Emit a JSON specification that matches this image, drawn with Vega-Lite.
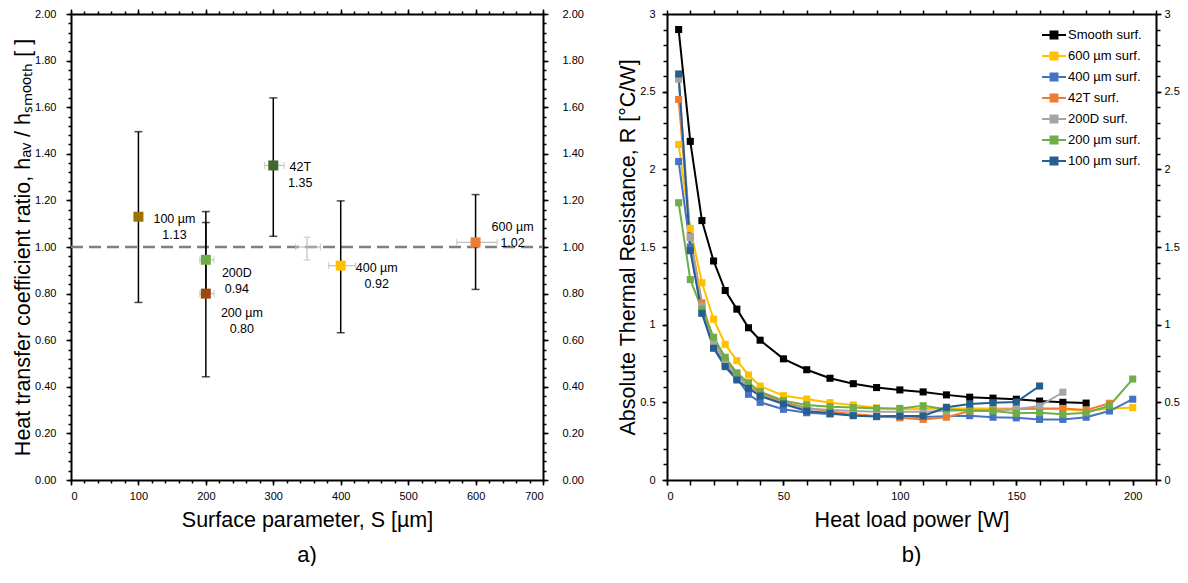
{
  "$schema": "https://vega.github.io/schema/vega-lite/v6.json",
  "background": "white",
  "padding": {"left": 12, "top": 8, "right": 0, "bottom": 0},
  "autosize": {"type": "pad"},
  "datasets": {
    "pts": [
      {"name": "100 µm", "s": 100, "h": 1.13, "lo": 0.762, "hi": 1.495, "slo": 95, "shi": 105, "label": "100 µm\n1.13"},
      {"name": "200D", "s": 200, "h": 0.945, "lo": 0.787, "hi": 1.105, "slo": 191, "shi": 212, "label": "200D\n0.94"},
      {"name": "200 µm", "s": 200, "h": 0.80, "lo": 0.443, "hi": 1.152, "slo": 191, "shi": 212, "label": "200 µm\n0.80"},
      {"name": "42T", "s": 300, "h": 1.35, "lo": 1.046, "hi": 1.64, "slo": 287, "shi": 316, "label": "42T\n1.35"},
      {"name": "400 µm", "s": 400, "h": 0.92, "lo": 0.632, "hi": 1.198, "slo": 382, "shi": 422, "label": "400 µm\n0.92"},
      {"name": "600 µm", "s": 600, "h": 1.02, "lo": 0.818, "hi": 1.225, "slo": 572, "shi": 632, "label": "600 µm\n1.02"}
    ],
    "smoothref": [{"s": 350, "h": 1.0, "lo": 0.944, "hi": 1.042, "slo": 333, "shi": 370}],
    "ref": [{"s": 0, "h": 1}, {"s": 700, "h": 1}],
    "res": [
      {"series": "Smooth surf.", "W": 5, "R": 2.90}, {"series": "Smooth surf.", "W": 10, "R": 2.18}, {"series": "Smooth surf.", "W": 15, "R": 1.67}, {"series": "Smooth surf.", "W": 20, "R": 1.41}, {"series": "Smooth surf.", "W": 25, "R": 1.22}, {"series": "Smooth surf.", "W": 30, "R": 1.10}, {"series": "Smooth surf.", "W": 35, "R": 0.98}, {"series": "Smooth surf.", "W": 40, "R": 0.90}, {"series": "Smooth surf.", "W": 50, "R": 0.78}, {"series": "Smooth surf.", "W": 60, "R": 0.71}, {"series": "Smooth surf.", "W": 70, "R": 0.655}, {"series": "Smooth surf.", "W": 80, "R": 0.62}, {"series": "Smooth surf.", "W": 90, "R": 0.595}, {"series": "Smooth surf.", "W": 100, "R": 0.58}, {"series": "Smooth surf.", "W": 110, "R": 0.567}, {"series": "Smooth surf.", "W": 120, "R": 0.548}, {"series": "Smooth surf.", "W": 130, "R": 0.533}, {"series": "Smooth surf.", "W": 140, "R": 0.527}, {"series": "Smooth surf.", "W": 150, "R": 0.52}, {"series": "Smooth surf.", "W": 160, "R": 0.508}, {"series": "Smooth surf.", "W": 170, "R": 0.50}, {"series": "Smooth surf.", "W": 180, "R": 0.495},
      {"series": "600 µm surf.", "W": 5, "R": 2.16}, {"series": "600 µm surf.", "W": 10, "R": 1.62}, {"series": "600 µm surf.", "W": 15, "R": 1.27}, {"series": "600 µm surf.", "W": 20, "R": 1.035}, {"series": "600 µm surf.", "W": 25, "R": 0.873}, {"series": "600 µm surf.", "W": 30, "R": 0.768}, {"series": "600 µm surf.", "W": 35, "R": 0.676}, {"series": "600 µm surf.", "W": 40, "R": 0.605}, {"series": "600 µm surf.", "W": 50, "R": 0.543}, {"series": "600 µm surf.", "W": 60, "R": 0.521}, {"series": "600 µm surf.", "W": 70, "R": 0.498}, {"series": "600 µm surf.", "W": 80, "R": 0.483}, {"series": "600 µm surf.", "W": 90, "R": 0.465}, {"series": "600 µm surf.", "W": 100, "R": 0.455}, {"series": "600 µm surf.", "W": 110, "R": 0.457}, {"series": "600 µm surf.", "W": 120, "R": 0.46}, {"series": "600 µm surf.", "W": 130, "R": 0.46}, {"series": "600 µm surf.", "W": 140, "R": 0.46}, {"series": "600 µm surf.", "W": 150, "R": 0.46}, {"series": "600 µm surf.", "W": 160, "R": 0.458}, {"series": "600 µm surf.", "W": 170, "R": 0.455}, {"series": "600 µm surf.", "W": 180, "R": 0.446}, {"series": "600 µm surf.", "W": 190, "R": 0.458}, {"series": "600 µm surf.", "W": 200, "R": 0.466},
      {"series": "400 µm surf.", "W": 5, "R": 2.05}, {"series": "400 µm surf.", "W": 10, "R": 1.50}, {"series": "400 µm surf.", "W": 15, "R": 1.08}, {"series": "400 µm surf.", "W": 20, "R": 0.86}, {"series": "400 µm surf.", "W": 25, "R": 0.74}, {"series": "400 µm surf.", "W": 30, "R": 0.655}, {"series": "400 µm surf.", "W": 35, "R": 0.552}, {"series": "400 µm surf.", "W": 40, "R": 0.50}, {"series": "400 µm surf.", "W": 50, "R": 0.455}, {"series": "400 µm surf.", "W": 60, "R": 0.433}, {"series": "400 µm surf.", "W": 70, "R": 0.425}, {"series": "400 µm surf.", "W": 80, "R": 0.42}, {"series": "400 µm surf.", "W": 90, "R": 0.41}, {"series": "400 µm surf.", "W": 100, "R": 0.41}, {"series": "400 µm surf.", "W": 110, "R": 0.405}, {"series": "400 µm surf.", "W": 120, "R": 0.41}, {"series": "400 µm surf.", "W": 130, "R": 0.414}, {"series": "400 µm surf.", "W": 140, "R": 0.404}, {"series": "400 µm surf.", "W": 150, "R": 0.40}, {"series": "400 µm surf.", "W": 160, "R": 0.39}, {"series": "400 µm surf.", "W": 170, "R": 0.39}, {"series": "400 µm surf.", "W": 180, "R": 0.404}, {"series": "400 µm surf.", "W": 190, "R": 0.444}, {"series": "400 µm surf.", "W": 200, "R": 0.52},
      {"series": "42T surf.", "W": 5, "R": 2.45}, {"series": "42T surf.", "W": 10, "R": 1.57}, {"series": "42T surf.", "W": 15, "R": 1.14}, {"series": "42T surf.", "W": 20, "R": 0.90}, {"series": "42T surf.", "W": 25, "R": 0.77}, {"series": "42T surf.", "W": 30, "R": 0.68}, {"series": "42T surf.", "W": 35, "R": 0.605}, {"series": "42T surf.", "W": 40, "R": 0.56}, {"series": "42T surf.", "W": 50, "R": 0.50}, {"series": "42T surf.", "W": 60, "R": 0.465}, {"series": "42T surf.", "W": 70, "R": 0.44}, {"series": "42T surf.", "W": 80, "R": 0.425}, {"series": "42T surf.", "W": 90, "R": 0.41}, {"series": "42T surf.", "W": 100, "R": 0.40}, {"series": "42T surf.", "W": 110, "R": 0.39}, {"series": "42T surf.", "W": 120, "R": 0.404}, {"series": "42T surf.", "W": 130, "R": 0.444}, {"series": "42T surf.", "W": 140, "R": 0.45}, {"series": "42T surf.", "W": 150, "R": 0.455}, {"series": "42T surf.", "W": 160, "R": 0.46}, {"series": "42T surf.", "W": 170, "R": 0.461}, {"series": "42T surf.", "W": 180, "R": 0.45}, {"series": "42T surf.", "W": 190, "R": 0.494},
      {"series": "200D surf.", "W": 5, "R": 2.58}, {"series": "200D surf.", "W": 10, "R": 1.56}, {"series": "200D surf.", "W": 15, "R": 1.12}, {"series": "200D surf.", "W": 20, "R": 0.89}, {"series": "200D surf.", "W": 25, "R": 0.76}, {"series": "200D surf.", "W": 30, "R": 0.67}, {"series": "200D surf.", "W": 35, "R": 0.60}, {"series": "200D surf.", "W": 40, "R": 0.55}, {"series": "200D surf.", "W": 50, "R": 0.49}, {"series": "200D surf.", "W": 60, "R": 0.46}, {"series": "200D surf.", "W": 70, "R": 0.45}, {"series": "200D surf.", "W": 80, "R": 0.445}, {"series": "200D surf.", "W": 90, "R": 0.44}, {"series": "200D surf.", "W": 100, "R": 0.44}, {"series": "200D surf.", "W": 110, "R": 0.44}, {"series": "200D surf.", "W": 120, "R": 0.445}, {"series": "200D surf.", "W": 130, "R": 0.45}, {"series": "200D surf.", "W": 140, "R": 0.45}, {"series": "200D surf.", "W": 150, "R": 0.455}, {"series": "200D surf.", "W": 160, "R": 0.476}, {"series": "200D surf.", "W": 170, "R": 0.565},
      {"series": "200 µm surf.", "W": 5, "R": 1.785}, {"series": "200 µm surf.", "W": 10, "R": 1.29}, {"series": "200 µm surf.", "W": 15, "R": 1.10}, {"series": "200 µm surf.", "W": 20, "R": 0.919}, {"series": "200 µm surf.", "W": 25, "R": 0.79}, {"series": "200 µm surf.", "W": 30, "R": 0.69}, {"series": "200 µm surf.", "W": 35, "R": 0.626}, {"series": "200 µm surf.", "W": 40, "R": 0.569}, {"series": "200 µm surf.", "W": 50, "R": 0.511}, {"series": "200 µm surf.", "W": 60, "R": 0.483}, {"series": "200 µm surf.", "W": 70, "R": 0.472}, {"series": "200 µm surf.", "W": 80, "R": 0.466}, {"series": "200 µm surf.", "W": 90, "R": 0.461}, {"series": "200 µm surf.", "W": 100, "R": 0.461}, {"series": "200 µm surf.", "W": 110, "R": 0.478}, {"series": "200 µm surf.", "W": 120, "R": 0.455}, {"series": "200 µm surf.", "W": 130, "R": 0.446}, {"series": "200 µm surf.", "W": 140, "R": 0.444}, {"series": "200 µm surf.", "W": 150, "R": 0.429}, {"series": "200 µm surf.", "W": 160, "R": 0.433}, {"series": "200 µm surf.", "W": 170, "R": 0.423}, {"series": "200 µm surf.", "W": 180, "R": 0.433}, {"series": "200 µm surf.", "W": 190, "R": 0.478}, {"series": "200 µm surf.", "W": 200, "R": 0.65},
      {"series": "100 µm surf.", "W": 5, "R": 2.614}, {"series": "100 µm surf.", "W": 10, "R": 1.476}, {"series": "100 µm surf.", "W": 15, "R": 1.073}, {"series": "100 µm surf.", "W": 20, "R": 0.848}, {"series": "100 µm surf.", "W": 25, "R": 0.73}, {"series": "100 µm surf.", "W": 30, "R": 0.644}, {"series": "100 µm surf.", "W": 35, "R": 0.59}, {"series": "100 µm surf.", "W": 40, "R": 0.541}, {"series": "100 µm surf.", "W": 50, "R": 0.489}, {"series": "100 µm surf.", "W": 60, "R": 0.444}, {"series": "100 µm surf.", "W": 70, "R": 0.429}, {"series": "100 µm surf.", "W": 80, "R": 0.414}, {"series": "100 µm surf.", "W": 90, "R": 0.408}, {"series": "100 µm surf.", "W": 100, "R": 0.412}, {"series": "100 µm surf.", "W": 110, "R": 0.412}, {"series": "100 µm surf.", "W": 120, "R": 0.468}, {"series": "100 µm surf.", "W": 130, "R": 0.489}, {"series": "100 µm surf.", "W": 140, "R": 0.498}, {"series": "100 µm surf.", "W": 150, "R": 0.502}, {"series": "100 µm surf.", "W": 160, "R": 0.605}
    ]
  },
  "bounds": "flush",
  "spacing": 124,
  "resolve": {"scale": {"color": "independent", "fill": "independent"}, "legend": {"color": "independent", "fill": "independent"}},
  "hconcat": [
    {
      "name": "lp",
      "width": 472,
      "height": 466,
      "title": {"text": "a)", "orient": "bottom", "fontSize": 22, "fontWeight": "normal", "font": "Liberation Sans", "offset": 14, "color": "#000"},
      "resolve": {"axis": {"x": "independent", "y": "independent"}},
      "layer": [
        {
          "data": {"name": "ref"},
          "mark": {"type": "line", "color": "#808080", "strokeWidth": 2.5, "strokeDash": [12, 6]},
          "encoding": {
            "x": {"field": "s", "type": "quantitative", "scale": {"domain": [0, 700], "nice": false},
              "axis": {"orient": "bottom", "values": [0, 100, 200, 300, 400, 500, 600, 700], "title": "Surface parameter, S [µm]", "tickSize": 5, "labelPadding": 5, "titlePadding": 8}},
            "y": {"field": "h", "type": "quantitative", "scale": {"domain": [0, 2], "nice": false},
              "axis": {"orient": "left", "values": [0, 0.2, 0.4, 0.6, 0.8, 1, 1.2, 1.4, 1.6, 1.8, 2], "format": ".2f", "title": "Heat transfer coefficient ratio, hₐᵥ / hₛₘₒₒₜₕ [ ]", "tickSize": 5, "labelPadding": 10, "titlePadding": 0}}
          }
        },
        {
          "data": {"name": "smoothref"},
          "mark": {"type": "rule", "color": "#BFBFBF", "strokeWidth": 1.2},
          "encoding": {
            "x": {"field": "s", "type": "quantitative", "scale": {"domain": [0, 700], "nice": false},
              "axis": {"orient": "top", "values": [0, 100, 200, 300, 400, 500, 600, 700], "labels": false, "title": null, "tickSize": 5}},
            "y": {"field": "lo", "type": "quantitative", "scale": {"domain": [0, 2], "nice": false},
              "axis": {"orient": "right", "values": [0, 0.2, 0.4, 0.6, 0.8, 1, 1.2, 1.4, 1.6, 1.8, 2], "format": ".2f", "title": null, "tickSize": 5, "labelPadding": 14}},
            "y2": {"field": "hi"}
          }
        },
        {
          "data": {"name": "smoothref"},
          "mark": {"type": "rule", "color": "#BFBFBF", "strokeWidth": 1.2},
          "encoding": {
            "x": {"field": "slo", "type": "quantitative", "scale": {"domain": [0, 700], "nice": false},
              "axis": {"orient": "top", "values": [0, 20, 40, 60, 80, 100, 120, 140, 160, 180, 200, 220, 240, 260, 280, 300, 320, 340, 360, 380, 400, 420, 440, 460, 480, 500, 520, 540, 560, 580, 600, 620, 640, 660, 680, 700], "labels": false, "domain": false, "title": null, "tickSize": 3}},
            "x2": {"field": "shi"},
            "y": {"field": "h", "type": "quantitative", "scale": {"domain": [0, 2], "nice": false},
              "axis": {"orient": "right", "values": [0, 0.04, 0.08, 0.12, 0.16, 0.2, 0.24, 0.28, 0.32, 0.36, 0.4, 0.44, 0.48, 0.52, 0.56, 0.6, 0.64, 0.68, 0.72, 0.76, 0.8, 0.84, 0.88, 0.92, 0.96, 1, 1.04, 1.08, 1.12, 1.16, 1.2, 1.24, 1.28, 1.32, 1.36, 1.4, 1.44, 1.48, 1.52, 1.56, 1.6, 1.64, 1.68, 1.72, 1.76, 1.8, 1.84, 1.88, 1.92, 1.96, 2], "labels": false, "domain": false, "title": null, "tickSize": 3}}
          }
        },
        {
          "data": {"name": "smoothref"},
          "transform": [{"fold": ["lo", "hi"], "as": ["k", "v"]}],
          "mark": {"type": "tick", "orient": "horizontal", "color": "#BFBFBF", "size": 7, "thickness": 1.2},
          "encoding": {
            "x": {"field": "s", "type": "quantitative", "scale": {"domain": [0, 700], "nice": false},
              "axis": {"orient": "bottom", "values": [0, 20, 40, 60, 80, 100, 120, 140, 160, 180, 200, 220, 240, 260, 280, 300, 320, 340, 360, 380, 400, 420, 440, 460, 480, 500, 520, 540, 560, 580, 600, 620, 640, 660, 680, 700], "labels": false, "domain": false, "title": null, "tickSize": 3}},
            "y": {"field": "v", "type": "quantitative", "scale": {"domain": [0, 2], "nice": false},
              "axis": {"orient": "left", "values": [0, 0.04, 0.08, 0.12, 0.16, 0.2, 0.24, 0.28, 0.32, 0.36, 0.4, 0.44, 0.48, 0.52, 0.56, 0.6, 0.64, 0.68, 0.72, 0.76, 0.8, 0.84, 0.88, 0.92, 0.96, 1, 1.04, 1.08, 1.12, 1.16, 1.2, 1.24, 1.28, 1.32, 1.36, 1.4, 1.44, 1.48, 1.52, 1.56, 1.6, 1.64, 1.68, 1.72, 1.76, 1.8, 1.84, 1.88, 1.92, 1.96, 2], "labels": false, "domain": false, "title": null, "tickSize": 3}}
          }
        },
        {
          "data": {"name": "smoothref"},
          "transform": [{"fold": ["slo", "shi"], "as": ["k", "v"]}],
          "mark": {"type": "tick", "orient": "vertical", "color": "#BFBFBF", "size": 7, "thickness": 1.2},
          "encoding": {
            "x": {"field": "v", "type": "quantitative", "scale": {"domain": [0, 700], "nice": false}, "axis": null},
            "y": {"field": "h", "type": "quantitative", "scale": {"domain": [0, 2], "nice": false}, "axis": null}
          }
        },
        {
          "data": {"name": "pts"},
          "mark": {"type": "rule", "color": "#BFBFBF", "strokeWidth": 1.2},
          "encoding": {
            "x": {"field": "slo", "type": "quantitative", "scale": {"domain": [0, 700], "nice": false}, "axis": null},
            "x2": {"field": "shi"},
            "y": {"field": "h", "type": "quantitative", "scale": {"domain": [0, 2], "nice": false}, "axis": null}
          }
        },
        {
          "data": {"name": "pts"},
          "transform": [{"fold": ["slo", "shi"], "as": ["k", "v"]}],
          "mark": {"type": "tick", "orient": "vertical", "color": "#BFBFBF", "size": 7, "thickness": 1.2},
          "encoding": {
            "x": {"field": "v", "type": "quantitative", "scale": {"domain": [0, 700], "nice": false}, "axis": null},
            "y": {"field": "h", "type": "quantitative", "scale": {"domain": [0, 2], "nice": false}, "axis": null}
          }
        },
        {
          "data": {"name": "pts"},
          "mark": {"type": "rule", "color": "#000", "strokeWidth": 1.5},
          "encoding": {
            "x": {"field": "s", "type": "quantitative", "scale": {"domain": [0, 700], "nice": false}, "axis": null},
            "y": {"field": "lo", "type": "quantitative", "scale": {"domain": [0, 2], "nice": false}, "axis": null},
            "y2": {"field": "hi"}
          }
        },
        {
          "data": {"name": "pts"},
          "transform": [{"fold": ["lo", "hi"], "as": ["k", "v"]}],
          "mark": {"type": "tick", "orient": "horizontal", "color": "#000", "size": 8, "thickness": 1.5},
          "encoding": {
            "x": {"field": "s", "type": "quantitative", "scale": {"domain": [0, 700], "nice": false}, "axis": null},
            "y": {"field": "v", "type": "quantitative", "scale": {"domain": [0, 2], "nice": false}, "axis": null}
          }
        },
        {
          "data": {"name": "pts"},
          "mark": {"type": "point", "shape": "square", "filled": true, "size": 100, "opacity": 1},
          "encoding": {
            "x": {"field": "s", "type": "quantitative", "scale": {"domain": [0, 700], "nice": false}, "axis": null},
            "y": {"field": "h", "type": "quantitative", "scale": {"domain": [0, 2], "nice": false}, "axis": null},
            "fill": {"field": "name", "type": "nominal", "legend": null,
              "scale": {"domain": ["100 µm", "200D", "200 µm", "42T", "400 µm", "600 µm"], "range": ["#997300", "#70AD47", "#9E480E", "#43682B", "#FFC000", "#ED7D31"]}}
          }
        },
        {
          "data": {"name": "pts"},
          "transform": [{"filter": "datum.name === '100 µm'"}],
          "mark": {"type": "text", "dx": 36, "dy": 2, "align": "center", "baseline": "middle", "lineBreak": "\n", "lineHeight": 16, "fontSize": 12.5, "font": "Liberation Sans", "color": "#000"},
          "encoding": {
            "x": {"field": "s", "type": "quantitative", "scale": {"domain": [0, 700], "nice": false}, "axis": null},
            "y": {"field": "h", "type": "quantitative", "scale": {"domain": [0, 2], "nice": false}, "axis": null},
            "text": {"field": "label"}
          }
        },
        {
          "data": {"name": "pts"},
          "transform": [{"filter": "datum.name === '42T'"}],
          "mark": {"type": "text", "dx": 27, "dy": 2, "align": "center", "baseline": "middle", "lineBreak": "\n", "lineHeight": 16, "fontSize": 12.5, "font": "Liberation Sans", "color": "#000"},
          "encoding": {
            "x": {"field": "s", "type": "quantitative", "scale": {"domain": [0, 700], "nice": false}, "axis": null},
            "y": {"field": "h", "type": "quantitative", "scale": {"domain": [0, 2], "nice": false}, "axis": null},
            "text": {"field": "label"}
          }
        },
        {
          "data": {"name": "pts"},
          "transform": [{"filter": "datum.name === '200D'"}],
          "mark": {"type": "text", "dx": 31, "dy": 13, "align": "center", "baseline": "middle", "lineBreak": "\n", "lineHeight": 16, "fontSize": 12.5, "font": "Liberation Sans", "color": "#000"},
          "encoding": {
            "x": {"field": "s", "type": "quantitative", "scale": {"domain": [0, 700], "nice": false}, "axis": null},
            "y": {"field": "h", "type": "quantitative", "scale": {"domain": [0, 2], "nice": false}, "axis": null},
            "text": {"field": "label"}
          }
        },
        {
          "data": {"name": "pts"},
          "transform": [{"filter": "datum.name === '200 µm'"}],
          "mark": {"type": "text", "dx": 36, "dy": 19, "align": "center", "baseline": "middle", "lineBreak": "\n", "lineHeight": 16, "fontSize": 12.5, "font": "Liberation Sans", "color": "#000"},
          "encoding": {
            "x": {"field": "s", "type": "quantitative", "scale": {"domain": [0, 700], "nice": false}, "axis": null},
            "y": {"field": "h", "type": "quantitative", "scale": {"domain": [0, 2], "nice": false}, "axis": null},
            "text": {"field": "label"}
          }
        },
        {
          "data": {"name": "pts"},
          "transform": [{"filter": "datum.name === '400 µm'"}],
          "mark": {"type": "text", "dx": 36, "dy": 2, "align": "center", "baseline": "middle", "lineBreak": "\n", "lineHeight": 16, "fontSize": 12.5, "font": "Liberation Sans", "color": "#000"},
          "encoding": {
            "x": {"field": "s", "type": "quantitative", "scale": {"domain": [0, 700], "nice": false}, "axis": null},
            "y": {"field": "h", "type": "quantitative", "scale": {"domain": [0, 2], "nice": false}, "axis": null},
            "text": {"field": "label"}
          }
        },
        {
          "data": {"name": "pts"},
          "transform": [{"filter": "datum.name === '600 µm'"}],
          "mark": {"type": "text", "dx": 37, "dy": -15, "align": "center", "baseline": "middle", "lineBreak": "\n", "lineHeight": 16, "fontSize": 12.5, "font": "Liberation Sans", "color": "#000"},
          "encoding": {
            "x": {"field": "s", "type": "quantitative", "scale": {"domain": [0, 700], "nice": false}, "axis": null},
            "y": {"field": "h", "type": "quantitative", "scale": {"domain": [0, 2], "nice": false}, "axis": null},
            "text": {"field": "label"}
          }
        }
      ]
    },
    {
      "name": "rp",
      "width": 489,
      "height": 466,
      "title": {"text": "b)", "orient": "bottom", "fontSize": 22, "fontWeight": "normal", "font": "Liberation Sans", "offset": 14, "color": "#000"},
      "data": {"name": "res"},
      "resolve": {"axis": {"x": "independent", "y": "independent"}},
      "layer": [
        {
          "mark": {"type": "line", "strokeWidth": 2},
          "encoding": {
            "x": {"field": "W", "type": "quantitative", "scale": {"domain": [0, 210], "nice": false},
              "axis": {"orient": "bottom", "values": [0, 50, 100, 150, 200], "title": "Heat load power [W]", "tickSize": 5, "labelPadding": 5, "titlePadding": 8}},
            "y": {"field": "R", "type": "quantitative", "scale": {"domain": [0, 3], "nice": false},
              "axis": {"orient": "left", "values": [0, 0.5, 1, 1.5, 2, 2.5, 3], "format": "~g", "title": "Absolute Thermal Resistance, R [°C/W]", "tickSize": 5, "labelPadding": 7, "titlePadding": 0}},
            "color": {"field": "series", "type": "nominal",
              "scale": {"domain": ["Smooth surf.", "600 µm surf.", "400 µm surf.", "42T surf.", "200D surf.", "200 µm surf.", "100 µm surf."], "range": ["#000000", "#FFC000", "#4472C4", "#ED7D31", "#A5A5A5", "#70AD47", "#255E91"]},
              "legend": {"orient": "none", "legendX": 374, "legendY": 8, "title": null, "padding": 0,
                "symbolType": "M-1,0L1,0M-0.29,-0.29L0.29,-0.29L0.29,0.29L-0.29,0.29Z",
                "symbolSize": 576, "symbolStrokeWidth": 2, "rowPadding": -2, "labelOffset": 1,
                "labelFontSize": 13, "labelFont": "Liberation Sans", "labelColor": "#000",
                "encode": {"symbols": {"update": {"stroke": {"scale": "rp_color", "field": "value"}, "fill": {"scale": "rp_color", "field": "value"}, "opacity": {"value": 1}}}}}}
          }
        },
        {
          "mark": {"type": "point", "shape": "square", "filled": true, "size": 50, "opacity": 1},
          "encoding": {
            "x": {"field": "W", "type": "quantitative", "scale": {"domain": [0, 210], "nice": false},
              "axis": {"orient": "bottom", "values": [0, 10, 20, 30, 40, 50, 60, 70, 80, 90, 100, 110, 120, 130, 140, 150, 160, 170, 180, 190, 200, 210], "labels": false, "domain": false, "title": null, "tickSize": 5}},
            "y": {"field": "R", "type": "quantitative", "scale": {"domain": [0, 3], "nice": false},
              "axis": {"orient": "left", "values": [0, 0.1, 0.2, 0.3, 0.4, 0.5, 0.6, 0.7, 0.8, 0.9, 1, 1.1, 1.2, 1.3, 1.4, 1.5, 1.6, 1.7, 1.8, 1.9, 2, 2.1, 2.2, 2.3, 2.4, 2.5, 2.6, 2.7, 2.8, 2.9, 3], "labels": false, "domain": false, "title": null, "tickSize": 4}},
            "color": {"field": "series", "type": "nominal", "legend": null}
          }
        },
        {
          "mark": {"type": "point", "opacity": 0},
          "encoding": {
            "x": {"field": "W", "type": "quantitative", "scale": {"domain": [0, 210], "nice": false},
              "axis": {"orient": "top", "values": [0, 10, 20, 30, 40, 50, 60, 70, 80, 90, 100, 110, 120, 130, 140, 150, 160, 170, 180, 190, 200, 210], "labels": false, "title": null, "tickSize": 4}},
            "y": {"field": "R", "type": "quantitative", "scale": {"domain": [0, 3], "nice": false},
              "axis": {"orient": "right", "values": [0, 0.5, 1, 1.5, 2, 2.5, 3], "format": "~g", "title": null, "tickSize": 5, "labelPadding": 3}}
          }
        },
        {
          "mark": {"type": "point", "opacity": 0},
          "encoding": {
            "x": {"field": "W", "type": "quantitative", "scale": {"domain": [0, 210], "nice": false}, "axis": null},
            "y": {"field": "R", "type": "quantitative", "scale": {"domain": [0, 3], "nice": false},
              "axis": {"orient": "right", "values": [0, 0.1, 0.2, 0.3, 0.4, 0.5, 0.6, 0.7, 0.8, 0.9, 1, 1.1, 1.2, 1.3, 1.4, 1.5, 1.6, 1.7, 1.8, 1.9, 2, 2.1, 2.2, 2.3, 2.4, 2.5, 2.6, 2.7, 2.8, 2.9, 3], "labels": false, "domain": false, "title": null, "tickSize": 4}}
          }
        }
      ]
    }
  ],
  "config": {
    "view": {"stroke": null},
    "font": "Liberation Sans",
    "axis": {"grid": false, "domainColor": "#000", "domainWidth": 2, "tickColor": "#000", "tickWidth": 1.5,
      "labelFont": "Liberation Sans", "labelFontSize": 11, "labelColor": "#000",
      "titleFont": "Liberation Sans", "titleFontSize": 21.5, "titleFontWeight": "normal", "titleColor": "#000"}
  }
}
